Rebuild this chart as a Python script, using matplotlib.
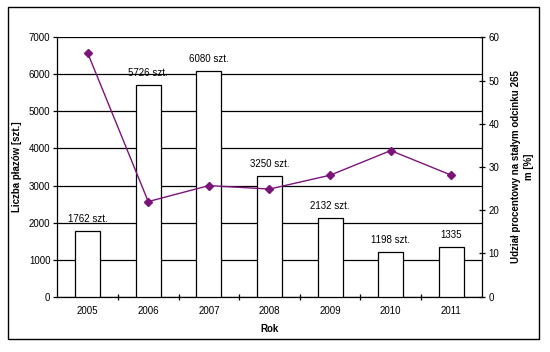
import matplotlib
matplotlib.use("Agg")
import matplotlib.pyplot as plt
from matplotlib.patches import Rectangle

years = ["2005", "2006", "2007", "2008", "2009", "2010", "2011"]
counts = [1762, 5726, 6080, 3250, 2132, 1198, 1335]
count_labels = ["1762 szt.", "5726 szt.", "6080 szt.", "3250 szt.", "2132 szt.", "1198 szt.", "1335"]
share = [56.4, 22.0, 25.7, 24.9, 28.1, 33.8, 28.1]

plt.rcParams['font.family'] = ['Liberation Sans', 'DejaVu Sans']

fig = plt.figure(figsize=(5.5, 3.52), dpi=100)
W, H = 550, 352
ax = fig.add_axes([57.3 / W, 1 - 296.7 / H, (481.7 - 57.3) / W, (296.7 - 37.3) / H])

x = list(range(len(years)))
ax.bar(x, counts, width=0.41, color="white", edgecolor="black", linewidth=0.9, zorder=3)
ax.set_xlim(-0.5, len(years) - 0.5)
ax.set_ylim(0, 7000)
ax.set_yticks(range(0, 7001, 1000))
ax.yaxis.grid(True, color="black", linewidth=0.9, zorder=0)
ax.set_axisbelow(True)
ax.set_xticks(x)
ax.set_xticklabels(years, fontsize=7)
ax.tick_params(axis="x", length=0, pad=7)
ax.set_xticks([i + 0.5 for i in x[:-1]], minor=True)
ax.tick_params(axis="x", which="minor", length=4, direction="inout", width=0.9)
ax.tick_params(axis="y", labelsize=7, length=3, width=0.9, pad=2)
ax.spines["top"].set_visible(False)
ax.spines["right"].set_visible(False)
for s in ["left", "bottom"]:
    ax.spines[s].set_linewidth(0.9)

for xi, c, lab in zip(x, counts, count_labels):
    ax.annotate(lab, (xi, c), xytext=(0, 5), textcoords="offset points",
                ha="center", va="bottom", fontsize=7, zorder=5)

ax.set_xlabel("Rok", fontsize=7, fontweight="bold")
ax.xaxis.set_label_coords(0.5, -0.105)
ax.set_ylabel("Liczba płazów [szt.]", fontsize=7, fontweight="bold", labelpad=5)

ax2 = ax.twinx()
ax2.plot(x, share, color="#7b137b", linewidth=1.0, marker="D", markersize=4.5,
         markerfacecolor="#7b137b", markeredgecolor="#7b137b", zorder=6)
ax2.set_ylim(0, 60)
ax2.set_yticks(range(0, 61, 10))
ax2.tick_params(axis="y", labelsize=7, length=4, width=0.9, direction="inout", pad=3)
ax2.spines["top"].set_visible(False)
ax2.spines["left"].set_visible(False)
ax2.spines["bottom"].set_visible(False)
ax2.spines["right"].set_linewidth(0.9)
ax2.set_ylabel("Udział procentowy na stałym odcinku 265\nm [%]", fontsize=7,
               fontweight="bold", labelpad=8, linespacing=1.4)

fig.patches.append(Rectangle((8 / W, 1 - 339 / H), (539 - 8) / W, (339 - 6.7) / H,
                             transform=fig.transFigure, fill=False,
                             edgecolor="black", linewidth=1.0))

fig.savefig("out.png", dpi=100)
